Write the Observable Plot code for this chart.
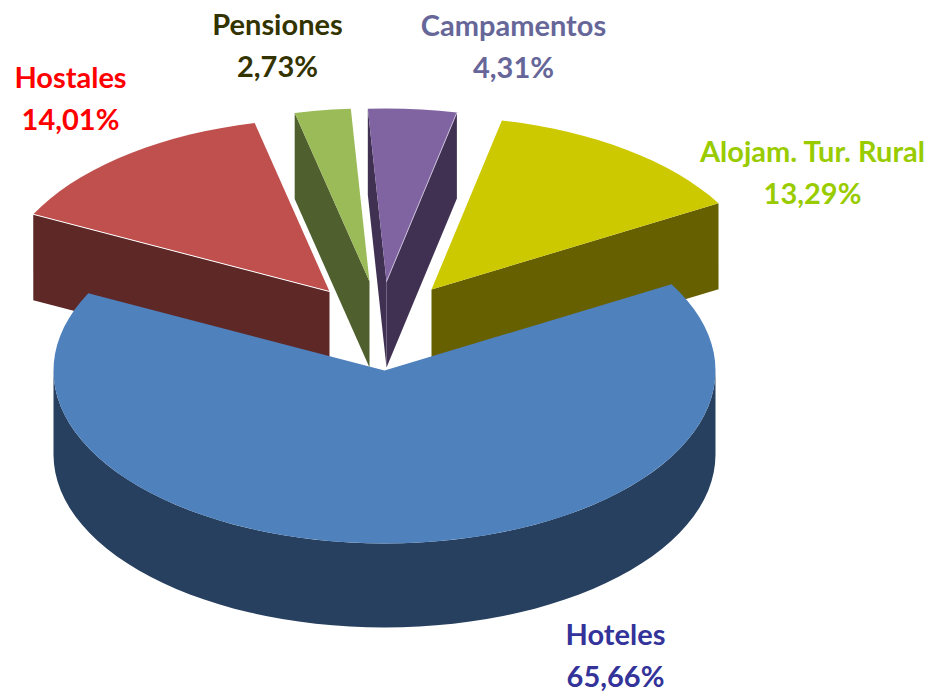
<!DOCTYPE html>
<html><head><meta charset="utf-8">
<script src="https://cdn.jsdelivr.net/npm/d3@7"></script>
<script src="https://cdn.jsdelivr.net/npm/@observablehq/plot@0.6"></script>
<style>html,body{margin:0;padding:0;background:#fff}svg{display:block}</style>
</head><body><div id="chart"></div>
<script>
// Values, clockwise order starting at Hostales
const names = ["Hostales", "Pensiones", "Campamentos", "Alojam. Tur. Rural", "Hoteles"];
const shares = [14.01, 2.73, 4.31, 13.29, 65.66];
// Styles
const topColors = ["#c0504d", "#9bbb59", "#8064a2", "#cdc900", "#4f81bd"];
const wallColors = ["#5e2827", "#4f5f2d", "#403153", "#666000", "#27405f"];
const labelColors = ["#ff0000", "#333300", "#666699", "#99cc00", "#333399"];
// Layout of the exploded 3D projection, in reference units
const apexX = [329, 369, 386, 431, 384];
const apexY = [291, 281, 281, 289, 370];
const labelX = [70, 277, 513, 812, 615];
const labelY = [95, 42, 43, 169, 652];
const rx = 331, ry = 173, depth = 86, firstAngle = -63.5;

const rad = d => d * Math.PI / 180;
let cursor = firstAngle;
const spans = shares.map(s => { const a = cursor; cursor += s * 3.6; return [a, cursor]; });
const rim = (i, deg, drop = 0) => ({
  x: apexX[i] + rx * Math.sin(rad(deg)),
  y: apexY[i] - ry * Math.cos(rad(deg)) + drop
});
const arc = (i, a, b, drop = 0) => {
  const n = Math.max(1, Math.round(Math.abs(b - a) / 3));
  return d3.range(n + 1).map(k => rim(i, a + (b - a) * k / n, drop));
};
const apex = (i, drop = 0) => ({x: apexX[i], y: apexY[i] + drop});
const topFace = i => [apex(i), ...arc(i, spans[i][0], spans[i][1])];
const cutFace = (i, deg) => [apex(i), rim(i, deg), rim(i, deg, depth), apex(i, depth)];
const poly = (pts, fill) => Plot.line(pts, {x: "x", y: "y", fill, stroke: "none", curve: "linear-closed"});
const edge = (pts, stroke) => Plot.line(pts, {x: "x", y: "y", stroke, strokeWidth: 1});

const labels = names.map((n, i) => ({
  text: n + "\n" + shares[i].toFixed(2).replace(".", ",") + "%",
  x: labelX[i], y: labelY[i], fill: labelColors[i]
}));

const H = 4;
const marks = [
  // cut faces of the exploded slices
  poly(cutFace(0, spans[0][0]), wallColors[0]),
  poly(cutFace(3, spans[3][1]), wallColors[3]),
  poly(cutFace(1, spans[1][0]), wallColors[1]),
  poly(cutFace(2, spans[2][0]), wallColors[2]),
  poly(cutFace(2, spans[2][1]), wallColors[2]),
  // top faces
  ...[0, 1, 2, 3].map(i => poly(topFace(i), topColors[i])),
  edge([rim(0, spans[0][0]), apex(0)], "#ffffff"),
  edge([rim(2, spans[2][1]), apex(2)], "#c9bcd8"),
  // Hoteles
  poly([...arc(H, 90, 270), ...arc(H, 270, 90, depth - 2)], wallColors[H]),
  poly([apex(H), ...arc(H, spans[H][0], spans[H][1])], topColors[H]),
  Plot.text(labels, {
    x: "x", y: "y", text: "text", fill: "fill",
    fontFamily: "Lato", fontWeight: 700, fontSize: 29, lineHeight: 1.45, textAnchor: "middle"
  })
];

const plot = Plot.plot({
  width: 930, height: 693,
  margin: 0,
  x: {domain: [0, 930], range: [0, 930], axis: null},
  y: {domain: [0, 693], range: [0, 693], axis: null},
  style: {background: "#fff"},
  marks
});
document.getElementById("chart").append(plot);
</script></body></html>
